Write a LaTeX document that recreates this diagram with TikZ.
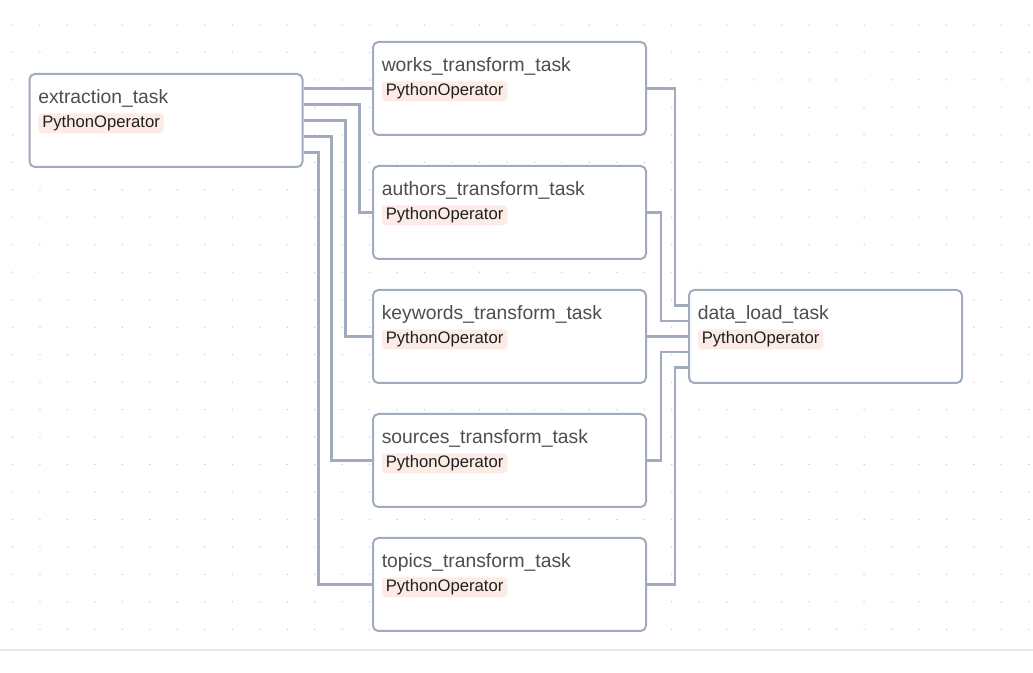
\documentclass[tikz,border=0pt]{standalone}
\usepackage{fontspec}
\setmainfont{Liberation Sans}

\definecolor{edgegray}{RGB}{160,172,189}
\definecolor{titlegray}{RGB}{78,78,78}
\definecolor{badgefill}{RGB}{253,236,230}
\definecolor{dotgray}{RGB}{200,200,200}
\definecolor{rulegray}{RGB}{229,231,235}

\begin{document}
\begin{tikzpicture}[
    x=0.75pt, y=-0.75pt,
    task/.style={draw=edgegray, line width=1.5pt, fill=white, rounded corners=4pt,
                 minimum width=204.75pt, minimum height=69.75pt, inner sep=0pt},
    ttitle/.style={anchor=base west, inner sep=0pt, text=titlegray,
                   font=\fontsize{14.5pt}{17pt}\selectfont},
    badge/.style={anchor=north west, fill=badgefill, rounded corners=3pt,
                  inner xsep=3pt, inner ysep=1.7pt, text height=9pt, text depth=2.6pt,
                  text=black!88, font=\fontsize{12.5pt}{15pt}\selectfont},
    flow/.style={draw=edgegray, line width=1.9pt}]

    \useasboundingbox[fill=white] (0,0) rectangle (1033,673);

    % dotted canvas
    \foreach \i in {0,...,37}
      \foreach \j in {0,...,22}
        \fill[dotgray] (12.5+27.47*\i, 25+27.47*\j) circle (0.55pt);
    \draw[rulegray, line width=1.1pt] (0,650) -- (1033,650);

    \node[task] (extract)  at (166,120.5)   {};
    \node[task] (works)    at (509.5,88.5)  {};
    \node[task] (authors)  at (509.5,212.5) {};
    \node[task] (keywords) at (509.5,336.5) {};
    \node[task] (sources)  at (509.5,460.5) {};
    \node[task] (topics)   at (509.5,584.5) {};
    \node[task] (load)     at (825.5,336.5) {};

    \foreach \n/\t in {extract/extraction\_task, works/works\_transform\_task,
                       authors/authors\_transform\_task, keywords/keywords\_transform\_task,
                       sources/sources\_transform\_task, topics/topics\_transform\_task,
                       load/data\_load\_task} {
      \node[ttitle] (\n-title) at ([shift={(9.5,30.5)}]\n.north west) {\t};
      \node[badge]  (\n-op)    at ([shift={(9.5,40)}]\n.north west) {PythonOperator};
    }

    % fan out
    \draw[flow] ([shift={(0,-32)}]extract.east) -- (works.west);
    \draw[flow] ([shift={(0,-16)}]extract.east) -- ++(56,0) |- (authors.west);
    \draw[flow] (extract.east) -- ++(42,0) |- (keywords.west);
    \draw[flow] ([shift={(0,16)}]extract.east) -- ++(28,0) |- (sources.west);
    \draw[flow] ([shift={(0,32)}]extract.east) -- ++(15,0) |- (topics.west);

    % fan in
    \draw[flow] (works.east) -- ++(28,0) |- ([shift={(0,-31)}]load.west);
    \draw[flow] (authors.east) -- ++(14,0) |- ([shift={(0,-15.5)}]load.west);
    \draw[flow] (keywords.east) -- (load.west);
    \draw[flow] (sources.east) -- ++(14,0) |- ([shift={(0,15.5)}]load.west);
    \draw[flow] (topics.east) -- ++(28,0) |- ([shift={(0,31)}]load.west);
  \end{tikzpicture}
\end{document}
